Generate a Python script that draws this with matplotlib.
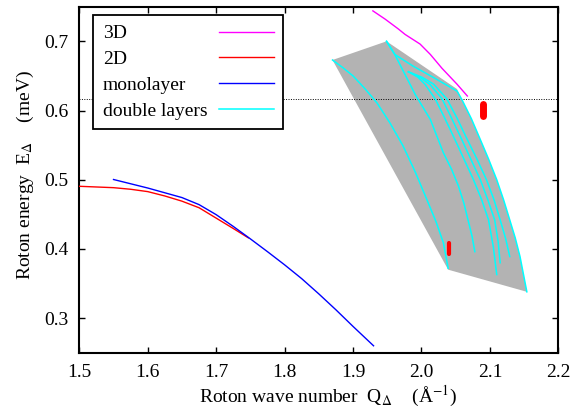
import matplotlib
matplotlib.use("Agg")
import matplotlib.pyplot as plt

plt.rcParams["font.family"] = "serif"
plt.rcParams["font.serif"] = ["Liberation Serif", "DejaVu Serif"]
plt.rcParams["mathtext.fontset"] = "stix"
plt.rcParams["font.size"] = 14

# 3D roton minimum vs. wave number
q_3d = [1.929, 1.947, 1.966, 1.976, 1.998, 2.013, 2.030, 2.052, 2.067]
e_3d = [0.744, 0.732, 0.718, 0.710, 0.696, 0.681, 0.661, 0.638, 0.621]

# 2D
q_2d = [1.50, 1.55, 1.575, 1.60, 1.625, 1.65, 1.675, 1.70, 1.725, 1.747]
e_2d = [0.4905, 0.4885, 0.4862, 0.4828, 0.4765, 0.4690, 0.4595, 0.4445, 0.4295, 0.416]

# monolayer
q_mono = [1.55, 1.60, 1.65, 1.675, 1.70, 1.725, 1.75, 1.775, 1.80, 1.825, 1.85, 1.875, 1.90, 1.93]
e_mono = [0.5003, 0.4880, 0.4742, 0.4640, 0.4495, 0.4325, 0.4145, 0.396, 0.377, 0.357, 0.335, 0.312, 0.288, 0.260]

# double layers (several coverages)
q_dl1 = [1.870, 1.885, 1.900, 1.917, 1.935, 1.954, 1.973, 1.991, 2.008, 2.021, 2.032, 2.039]
e_dl1 = [0.673, 0.662, 0.650, 0.632, 0.611, 0.582, 0.549, 0.511, 0.471, 0.440, 0.409, 0.372]
q_dl2 = [1.949, 1.961, 1.976, 1.991, 2.013, 2.032, 2.044, 2.054, 2.062, 2.068, 2.074, 2.078]
e_dl2 = [0.700, 0.681, 0.652, 0.623, 0.587, 0.539, 0.515, 0.491, 0.466, 0.442, 0.418, 0.396]
q_dl3 = [1.981, 1.995, 2.005, 2.020, 2.034, 2.048, 2.062, 2.076, 2.088, 2.098, 2.105, 2.110]
e_dl3 = [0.656, 0.648, 0.638, 0.617, 0.589, 0.560, 0.530, 0.500, 0.471, 0.442, 0.403, 0.363]
q_dl4 = [1.981, 1.998, 2.012, 2.030, 2.044, 2.058, 2.072, 2.086, 2.097, 2.107, 2.112, 2.115]
e_dl4 = [0.656, 0.648, 0.638, 0.617, 0.589, 0.560, 0.530, 0.500, 0.471, 0.442, 0.411, 0.380]
q_dl5 = [1.981, 2.001, 2.018, 2.037, 2.052, 2.066, 2.081, 2.095, 2.106, 2.115, 2.123, 2.129]
e_dl5 = [0.656, 0.648, 0.638, 0.617, 0.589, 0.560, 0.530, 0.500, 0.471, 0.442, 0.415, 0.389]
q_dl6 = [1.949, 1.961, 1.988, 2.017, 2.052, 2.059, 2.073, 2.086, 2.098, 2.110, 2.120, 2.129, 2.137, 2.144, 2.154]
e_dl6 = [0.700, 0.681, 0.664, 0.648, 0.628, 0.616, 0.588, 0.558, 0.530, 0.500, 0.471, 0.442, 0.416, 0.389, 0.338]

# shaded double-layer region
poly_q = [1.870, 1.949, 2.052, 2.059, 2.073, 2.086, 2.098, 2.110, 2.120, 2.129, 2.137, 2.144, 2.154, 2.039]
poly_e = [0.673, 0.700, 0.631, 0.616, 0.588, 0.558, 0.530, 0.500, 0.471, 0.442, 0.416, 0.389, 0.338, 0.370]

# experimental points (error bars)
exp_q = [2.040, 2.090]
exp_lo = [0.392, 0.592]
exp_hi = [0.408, 0.609]
exp_lw = [3.0, 5.0]

e_ref = 0.617

fig = plt.figure(figsize=(5.71, 4.12), dpi=100)
ax = fig.add_axes([0.1389, 0.1439, 0.8389, 0.8398])

ax.fill(poly_q, poly_e, color="#b3b3b3", lw=0, zorder=1)
ax.axhline(e_ref, color="black", ls=(0, (1, 1.5)), lw=0.7, zorder=2)

ax.plot(q_3d, e_3d, color="#ff00ff", lw=1.0, label="3D", zorder=3)
ax.plot(q_2d, e_2d, color="#ff0000", lw=1.0, label="2D", zorder=3)
ax.plot(q_mono, e_mono, color="#0000ff", lw=1.0, label="monolayer", zorder=3)
for i, (q, e) in enumerate([(q_dl1, e_dl1), (q_dl2, e_dl2), (q_dl3, e_dl3),
                            (q_dl4, e_dl4), (q_dl5, e_dl5), (q_dl6, e_dl6)]):
    ax.plot(q, e, color="#00ffff", lw=1.1, zorder=3,
            label="double layers" if i == 0 else None)

for q, lo, hi, lw in zip(exp_q, exp_lo, exp_hi, exp_lw):
    ax.plot([q, q], [lo, hi], color="#ff0000", lw=lw, solid_capstyle="round", zorder=4)

ax.set_xlim(1.5, 2.2)
ax.set_ylim(0.25, 0.75)
ax.set_xticks([1.5, 1.6, 1.7, 1.8, 1.9, 2.0, 2.1, 2.2])
ax.set_yticks([0.3, 0.4, 0.5, 0.6, 0.7])
ax.tick_params(direction="in", top=True, right=True, length=4, width=1.0, pad=8)
for s in ax.spines.values():
    s.set_linewidth(1.5)

ax.set_xlabel(r"Roton wave number  Q$_\Delta$    (Å$^{-1}$)", labelpad=2)
ax.xaxis.label.set_x(0.52)
ax.set_ylabel(r"Roton energy  E$_\Delta$    (meV)", labelpad=6)
ax.yaxis.label.set_y(0.515)

leg = ax.legend(loc="upper left", bbox_to_anchor=(0.029, 0.976), borderaxespad=0,
                markerfirst=False, fancybox=False, framealpha=1, edgecolor="black",
                handlelength=2.8, handletextpad=0.6, labelspacing=0.42, borderpad=0.5)
leg.get_frame().set_linewidth(1.3)

# left-align the labels: stretch every legend row to the widest one
fig.canvas.draw()
renderer = fig.canvas.get_renderer()
rows = [r for col in leg._legend_handle_box.get_children() for r in col.get_children()]
wmax = max(r.get_bbox(renderer).width for r in rows)
for r in rows:
    r.mode = "expand"
    r.width = wmax

fig.savefig("out.png", dpi=100)
